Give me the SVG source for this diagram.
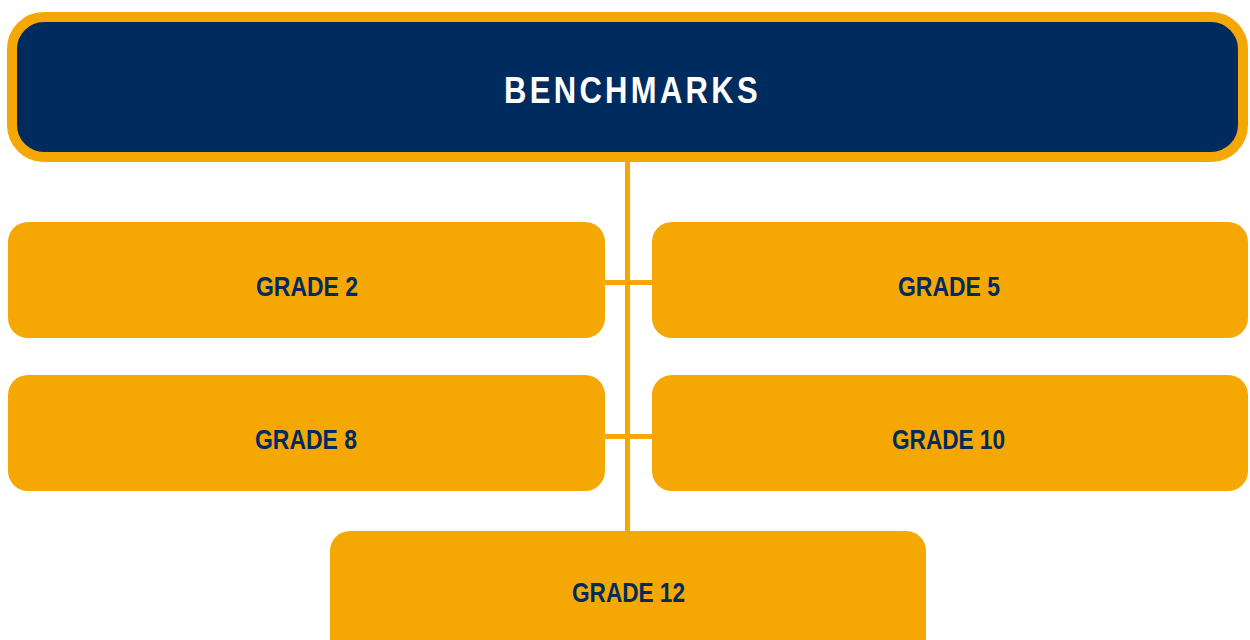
<svg xmlns="http://www.w3.org/2000/svg" width="1250" height="640" viewBox="0 0 1250 640">
<style>
.box{fill:#F5A704;}
.lbl{font-family:"Liberation Sans",Arial,sans-serif;font-weight:bold;font-size:28px;fill:#002B5F;text-anchor:middle;}
.hdr{font-family:"Liberation Sans",Arial,sans-serif;font-weight:bold;font-size:37px;fill:#FFFFFF;text-anchor:middle;letter-spacing:4px;}
.conn{stroke:#F5A704;stroke-width:5;fill:none;}
</style>
<rect width="1250" height="640" fill="#FFFFFF"/>
<g id="connectors">
<line class="conn" x1="627.5" y1="160" x2="627.5" y2="533"/>
<line class="conn" x1="603" y1="282.5" x2="654" y2="282.5"/>
<line class="conn" x1="603" y1="436.5" x2="654" y2="436.5"/>
</g>
<g id="benchmarks">
<rect x="12" y="17" width="1231" height="140" rx="32" fill="#002B5F" stroke="#F5A704" stroke-width="10"/>
<text class="hdr" x="632.5" y="103" textLength="257" lengthAdjust="spacingAndGlyphs">BENCHMARKS</text>
</g>
<g id="grade2">
<rect class="box" x="8" y="222" width="597" height="116" rx="20"/>
<text class="lbl" x="307" y="296" textLength="102" lengthAdjust="spacingAndGlyphs">GRADE 2</text>
</g>
<g id="grade5">
<rect class="box" x="652" y="222" width="596" height="116" rx="20"/>
<text class="lbl" x="949" y="296" textLength="102" lengthAdjust="spacingAndGlyphs">GRADE 5</text>
</g>
<g id="grade8">
<rect class="box" x="8" y="375" width="597" height="116" rx="20"/>
<text class="lbl" x="306" y="449" textLength="102" lengthAdjust="spacingAndGlyphs">GRADE 8</text>
</g>
<g id="grade10">
<rect class="box" x="652" y="375" width="596" height="116" rx="20"/>
<text class="lbl" x="948.5" y="449" textLength="113" lengthAdjust="spacingAndGlyphs">GRADE 10</text>
</g>
<g id="grade12">
<rect class="box" x="330" y="531" width="596" height="130" rx="20"/>
<text class="lbl" x="628.5" y="602" textLength="113" lengthAdjust="spacingAndGlyphs">GRADE 12</text>
</g>
</svg>
